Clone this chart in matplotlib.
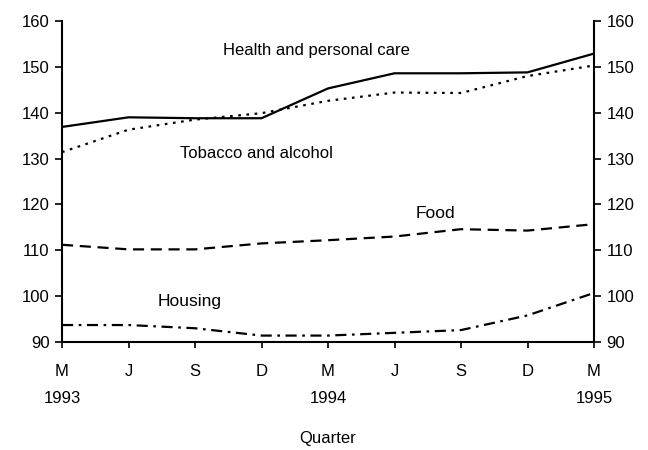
import numpy as np
import matplotlib.pyplot as plt

plt.rcParams['font.family'] = ['Liberation Sans', 'DejaVu Sans']

quarters = ['M', 'J', 'S', 'D', 'M', 'J', 'S', 'D', 'M']
years = ['1993', '', '', '', '1994', '', '', '', '1995']

health = [136.9, 139.0, 138.8, 138.8, 145.3, 148.6, 148.6, 148.8, 152.9]
tobacco = [131.4, 136.3, 138.5, 139.9, 142.6, 144.4, 144.3, 148.0, 150.3]
food = [111.2, 110.2, 110.2, 111.5, 112.2, 113.0, 114.6, 114.3, 115.7]
housing = [93.7, 93.7, 93.0, 91.4, 91.4, 92.0, 92.6, 95.8, 100.7]

x = np.arange(len(quarters))

fig = plt.figure(figsize=(6.48, 4.5), dpi=100)
ax = fig.add_axes([0.0957, 0.24, 0.821, 0.7133])

lw = 1.6
ax.plot(x, health, color='black', lw=lw, ls='-')
ax.plot(x, tobacco, color='black', lw=lw, ls=(0, (1.2, 2.5)))
ax.plot(x, food, color='black', lw=lw, ls=(0, (5, 3)))
ax.plot(x, housing, color='black', lw=lw, ls=(0, (5, 2.5, 1.2, 2.5)))

fs = 12
ax.text(3.83, 153.5, 'Health and personal care', fontsize=fs, ha='center', va='center')
ax.text(2.93, 131.2, 'Tobacco and alcohol', fontsize=fs, ha='center', va='center')
ax.text(5.61, 118.1, 'Food', fontsize=fs + 0.5, ha='center', va='center')
ax.text(1.92, 98.8, 'Housing', fontsize=fs + 0.5, ha='center', va='center')

ax.set_xlim(0, 8)
ax.set_ylim(90, 160)
ax.set_yticks(np.arange(90, 161, 10))
ax.set_xticks(x)
ax.set_xticklabels([])
for i in x:
    ax.text(i, 83.6, quarters[i], fontsize=fs, ha='center', va='center')
    if years[i]:
        ax.text(i, 77.7, years[i], fontsize=fs, ha='center', va='center')
ax.text(4, 68.9, 'Quarter', fontsize=fs, ha='center', va='center')

ax.spines['top'].set_visible(False)
for s in ['left', 'right', 'bottom']:
    ax.spines[s].set_linewidth(1.5)
ax.tick_params(axis='y', which='both', left=True, right=True, labelleft=True,
               labelright=True, direction='out', length=5, width=1.2,
               labelsize=fs, pad=4)
ax.tick_params(axis='x', direction='out', length=4, width=1.2)

fig.savefig('out.png', dpi=100)
